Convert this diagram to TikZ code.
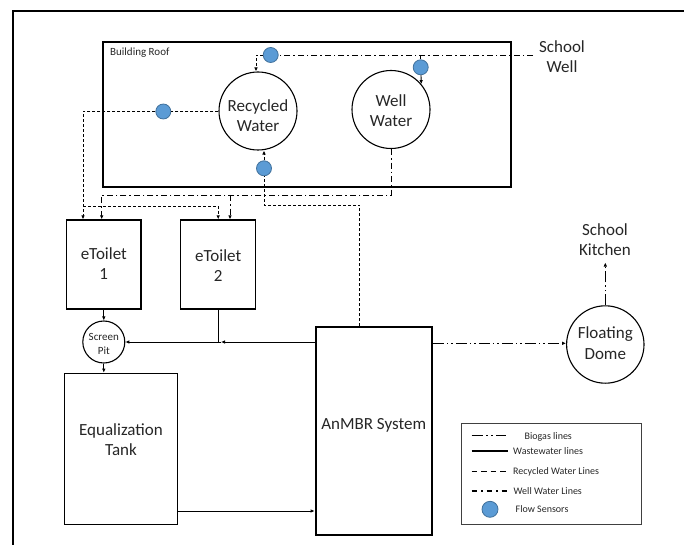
\documentclass[tikz,border=0pt]{standalone}
\usepackage{fontspec}
\setmainfont{Carlito}
\usetikzlibrary{arrows.meta}
\definecolor{sensorblue}{HTML}{5B9BD5}
\definecolor{sensoredge}{HTML}{41719C}
\definecolor{txt}{HTML}{262626}
\begin{document}
\begin{tikzpicture}[x=1pt,y=-1pt,
  box/.style={draw, line width=1.3pt, inner sep=0pt},
  thickbox/.style={draw, line width=2.2pt, inner sep=0pt},
  tank/.style={draw, circle, line width=1.1pt, inner sep=0pt},
  sensor/.style={circle, fill=sensorblue, draw=sensoredge, line width=0.8pt, minimum size=15pt, inner sep=0pt},
  lbl/.style={font=\fontsize{17}{20.5}\selectfont, align=center, text=txt, inner sep=0pt},
  small/.style={font=\fontsize{11}{14}\selectfont, align=center, text=txt, inner sep=0pt},
  legtxt/.style={font=\fontsize{10}{12}\selectfont, text=txt, anchor=west, inner sep=0pt},
  tip/.style={-{Latex[length=4pt,width=3.6pt]}},
  waste/.style={line width=0.9pt},
  recyc/.style={line width=0.9pt, dash pattern=on 3pt off 2pt},
  wellw/.style={line width=0.9pt, dash pattern=on 6pt off 3pt on 1.5pt off 3pt},
  biogas/.style={line width=0.9pt, dash pattern=on 11pt off 3pt on 1.5pt off 3pt on 1.5pt off 3pt},
  legrecyc/.style={line width=1.3pt, dash pattern=on 5.5pt off 4pt},
  legwell/.style={line width=1.3pt, dash pattern=on 5.5pt off 4pt on 1.5pt off 4pt},
  legbio/.style={line width=1.3pt, dash pattern=on 11pt off 3.5pt on 1.5pt off 3.5pt on 1.5pt off 3.5pt},
]
\useasboundingbox (0,0) rectangle (684,545);

% outer frame (only left and top visible)
\coordinate (f1) at (12.7,546);
\coordinate (f2) at (12.7,11);
\coordinate (f3) at (685,11);
\draw[line width=2pt] (f1) -- (f2) -- (f3);

% building roof
\node[thickbox, minimum width=407.4pt, minimum height=145.6pt] (roof) at (307,114.5) {};
\node[small, anchor=west] (rooftxt) at (110,52.5) {Building Roof};

% tanks on roof
\node[tank, minimum size=78pt] (rw) at (258,111) {};
\node[lbl] (rwtxt) at (258,115.5) {Recycled\\Water};
\node[tank, minimum size=78pt] (ww) at (391,109.5) {};
\node[lbl] (wwtxt) at (391,110.7) {Well\\Water};

% sensors
\node[sensor] (s1) at (163.3,111.5) {};
\node[sensor] (s2) at (270.7,55) {};
\node[sensor] (s3) at (264,168.3) {};
\node[sensor] (s4) at (420.7,67.3) {};

% school well / kitchen labels
\node[lbl] (schoolwell) at (562,56.5) {School\\Well};
\node[lbl] (kitchen) at (605,239.5) {School\\Kitchen};

% toilets, pit, tanks
\node[box, minimum width=74.3pt, minimum height=89pt] (et1) at (103.8,264.5) {};
\node[lbl] (et1txt) at (103.8,263.5) {eToilet\\1};
\node[box, minimum width=75pt, minimum height=89pt] (et2) at (218.2,264.5) {};
\node[lbl] (et2txt) at (218.2,265.5) {eToilet\\2};
\node[tank, minimum size=42pt] (sp) at (103.8,342) {};
\node[small] (sptxt) at (103.8,343.5) {Screen\\Pit};
\node[box, minimum width=113.4pt, minimum height=151pt] (eq) at (121,448.8) {};
\node[lbl] (eqtxt) at (121,439.7) {Equalization\\Tank};
\node[thickbox, minimum width=116pt, minimum height=207.7pt] (an) at (373.7,431.2) {};
\node[lbl] (antxt) at (373.7,425) {AnMBR System};
\node[tank, minimum size=77.4pt] (fd) at (605.3,344.5) {};
\node[lbl] (fdtxt) at (605.3,343.3) {Floating\\Dome};

% recycled water lines
\coordinate (r1) at (83,111.5);
\coordinate (r2) at (83,206);
\coordinate (r3) at (218.2,206);
\coordinate (r4) at (256,55);
\coordinate (r5) at (359.3,205);
\coordinate (r6) at (264,205);
\draw[recyc] (rw.west |- s1) -- (s1);
\draw[recyc,tip] (s1) -- (r1) -- (r1 |- et1.north);
\draw[recyc,tip] (r2) -- (r3) -- (et2.north);
\draw[recyc,tip] (s2) -- (r4) -- (r4 |- rw.north);
\draw[recyc] (r5 |- an.north) -- (r5) -- (r6) -- (s3);
\draw[recyc,tip] (s3) -- (s3 |- rw.south);

% well water lines
\coordinate (w1) at (391,195);
\coordinate (w2) at (101.7,195);
\coordinate (w3) at (230,195);
\coordinate (w4) at (533,55);
\coordinate (w5) at (420.7,55);
\draw[wellw,tip] (ww.south) -- (w1) -- (w2) -- (w2 |- et1.north);
\draw[wellw,tip] (w3) -- (w3 |- et2.north);
\draw[wellw] (w4) -- (s2);
\draw[wellw] (w5) -- (s4);
\draw[wellw,tip] (s4) -- (ww.40);

% wastewater lines
\coordinate (j2) at (221,342);
\coordinate (e1) at (0,511);
\draw[waste,tip] (et1.south) -- (sp.north);
\draw[waste,tip] (sp.south) -- (sp.south |- eq.north);
\draw[waste,tip] (an.west |- j2) -- (j2);
\draw[waste,tip] (j2) -- (sp.east);
\draw[waste] (et2.south) -- (et2.south |- j2);
\draw[waste,tip] (eq.east |- e1) -- (an.west |- e1);

% biogas lines
\coordinate (k1) at (605.3,262.5);
\draw[biogas,tip] (an.east |- 0,343.3) -- (fd.west |- 0,343.3);
\draw[biogas,tip] (fd.north) -- (k1);

% legend
\node[draw=black!75, line width=1pt, minimum width=180pt, minimum height=101pt, inner sep=0pt] (leg) at (551.7,473.8) {};
\coordinate (l1a) at (471.7,435.7); \coordinate (l1b) at (506,435.7);
\coordinate (l2a) at (471.7,451);   \coordinate (l2b) at (508.3,451);
\coordinate (l3a) at (471.7,471.7); \coordinate (l3b) at (508.3,471.7);
\coordinate (l4a) at (471.7,491);   \coordinate (l4b) at (508.3,491);
\draw[legbio] (l1a) -- (l1b);
\draw[line width=1.3pt] (l2a) -- (l2b);
\draw[legrecyc] (l3a) -- (l3b);
\draw[legwell] (l4a) -- (l4b);
\node[sensor, minimum size=16pt] (lsensor) at (490,509.3) {};
\node[legtxt] (lt1) at (524.5,436.5) {Biogas lines};
\node[legtxt] (lt2) at (513,451.5) {Wastewater lines};
\node[legtxt] (lt3) at (513,471.5) {Recycled Water Lines};
\node[legtxt] (lt4) at (513.5,491.5) {Well Water Lines};
\node[legtxt] (lt5) at (515.5,509.5) {Flow Sensors};
\end{tikzpicture}
\end{document}
